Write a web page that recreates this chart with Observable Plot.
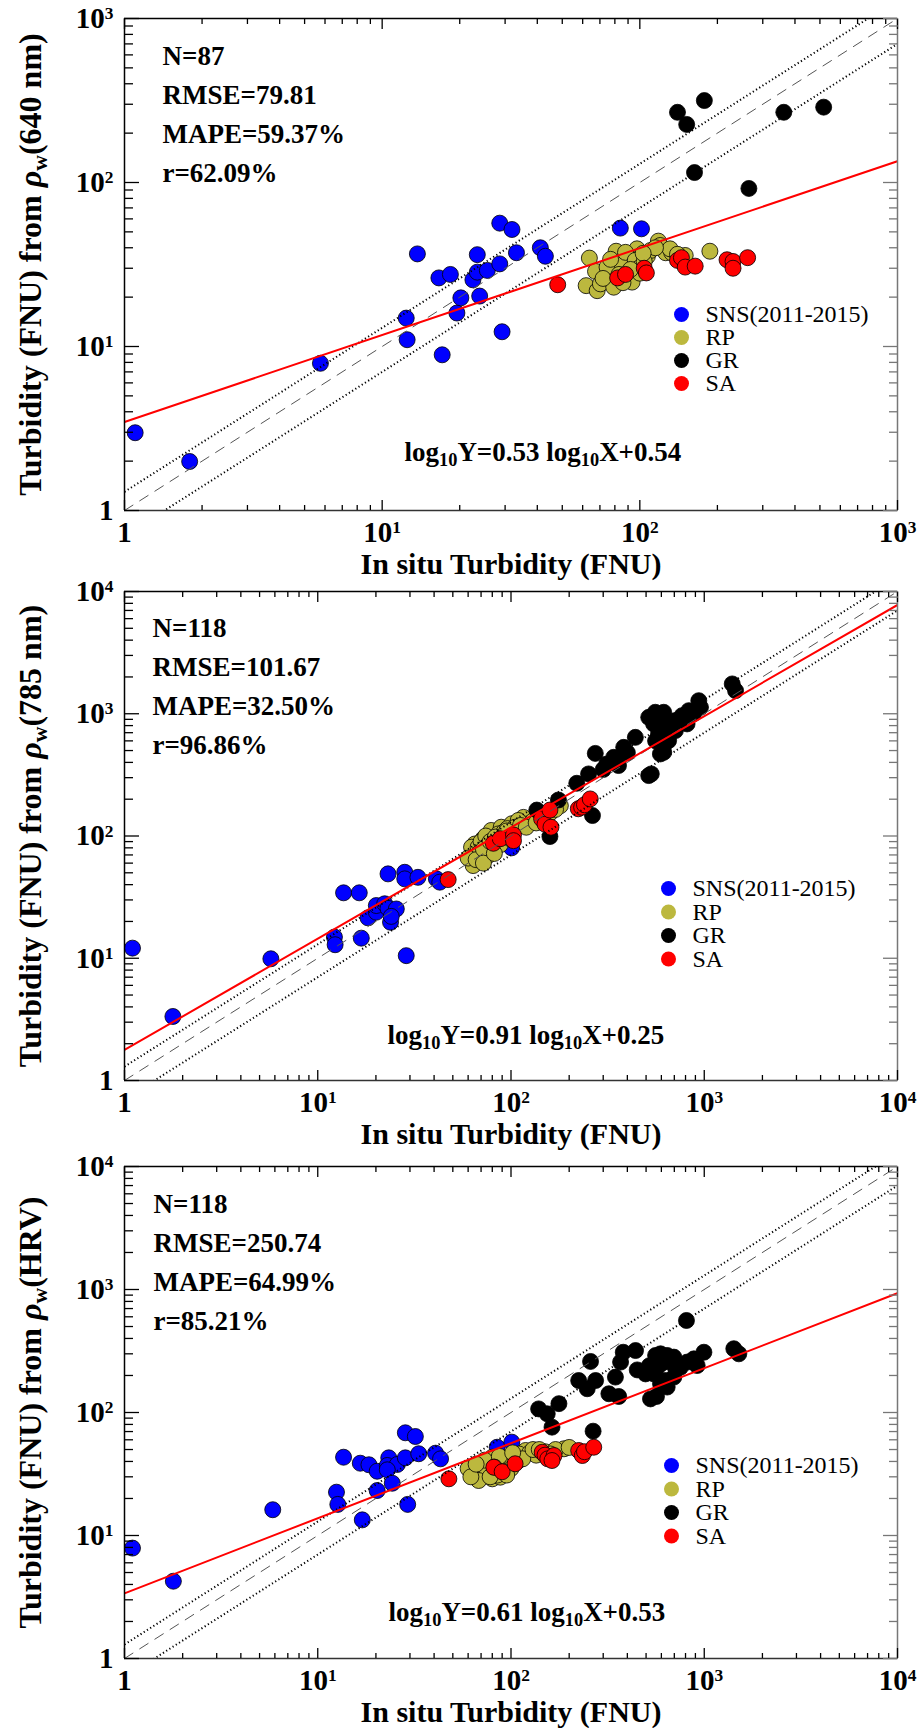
<!DOCTYPE html>
<html><head><meta charset="utf-8">
<script src="https://cdn.jsdelivr.net/npm/d3@7"></script>
<script src="https://cdn.jsdelivr.net/npm/@observablehq/plot@0.6"></script>
<style>
body{margin:0;background:#fff;}
#chart{width:923px;}
#chart svg{display:block;overflow:visible;background:#fff;}
</style></head><body><div id="chart"></div>
<script>
const FONT = "'Liberation Serif','Times New Roman',Times,serif";

// ---------- categories / labels ----------
const seriesNames = ["SNS(2011-2015)", "RP", "GR", "SA"];
const seriesColors = ["#0000ff", "#bcb83e", "#000000", "#ff0000"];
const panelBands = ["640 nm", "785 nm", "HRV"];
const panelN = [87, 118, 118];
const panelRMSE = ["79.81", "101.67", "250.74"];
const panelMAPE = ["59.37%", "32.50%", "64.99%"];
const panelR = ["62.09%", "96.86%", "85.21%"];
const fitSlope = [0.53, 0.91, 0.61];
const fitIntercept = [0.54, 0.25, 0.53];
const axisMax = [1e3, 1e4, 1e4];
const toleranceHigh = 1.3;
const toleranceLow = 0.7;

// ---------- panel 1 (640 nm) ----------
const p1_SNS = [[1.1,2.98],[1.79,1.99],[5.76,7.9],[12.4,14.9],[12.5,11.0],[13.7,36.7],[16.6,26.2],[17.1,8.9],[18.4,27.5],[19.5,16.0],[20.2,19.8],[22.5,25.5],[23.4,28.4],[23.4,36.3],[23.9,20.3],[25.6,29.1],[28.6,31.9],[28.6,56.5],[29.2,12.3],[31.9,51.7],[33.2,37.3],[41.1,40],[43,35.5],[84,52.7],[101.5,52.2]];
const p1_RP = [[118,43.9],[120,41.3],[126,37.3],[133,37.3],[131,39.4],[150,35.9],[187,38.1],[63.7,34.6],[67.3,28.7],[61.9,23.5],[68.3,21.9],[70.3,24.1],[75.7,27.1],[79.2,23.0],[80.9,38.1],[79.7,31.9],[90.5,35.1],[97.5,39.4],[101,35.9],[107,35.5],[87.4,29.1],[90.5,25.9],[93.3,27.1],[85.4,31.2],[94.7,31.9],[74.6,30.5],[93.3,24.7],[84,33],[88,37.5],[96,33.5],[110,38.5],[72,26],[83,27.5],[99,30],[104,33],[77,34],[140,36.5],[115,40],[100,28],[86,24.5],[92,29.5],[103,37]];
const p1_GR = [[140,268],[152,226],[178,316],[362,268],[517,288],[163,115],[265,92]];
const p1_SA = [[48,23.8],[82,26.2],[88,27.5],[104,30],[106,28.1],[140,33.5],[145,34.8],[150,30.5],[164,30.9],[218,33.8],[230,33],[230,30],[262,34.8]];

// ---------- panel 2 (785 nm) ----------
const p2_SNS = [[1.1,12.1],[1.78,3.34],[5.72,9.9],[12.2,14.9],[12.3,12.9],[13.6,34.3],[16.4,34.3],[16.8,14.6],[18.2,21.4],[20.1,23.8],[20.1,27.0],[22.2,27.9],[23.1,25.6],[25.5,25.3],[23.8,19.7],[23.1,49],[28.2,50.5],[28.2,44.6],[33,45.9],[28.7,10.5],[41.1,44.6],[42.8,41.9],[100.7,80],[24,22]];
const p2_RP = [[65,86],[62.5,81],[79,111],[89,118],[101,126],[116,142],[123,126],[180,177],[71.8,94.7],[79,76],[86,104],[109,134],[63.7,57.3],[76,69],[81,83.6],[67.6,81],[70,90],[74,100],[68,72],[85,92],[92,108],[96,115],[105,118],[112,122],[130,133],[140,150],[150,140],[60,66],[66,64],[72,78],[78,90],[83,98],[88,85],[94,100],[99,95],[120,118],[135,128],[160,155],[170,165],[72,60],[82,72],[95,110]];
const p2_GR = [[159,99],[136,163],[176,197],[264,147],[219,270],[252,322],[273,474],[313,388],[340,440],[360,377],[383,531],[440,641],[532,322],[558,1028],[617,1028],[547,826],[580,684],[617,484],[654,603],[709,879],[768,965],[832,1060],[937,1279],[956,1128],[815,826],[709,728],[593,469],[1396,1754],[1452,1545],[516,312],[681,774],[516,935],[600,900],[650,700],[720,800],[560,600],[880,1000],[300,350],[400,480],[620,560]];
const p2_SA = [[47.3,44],[81,87.2],[88,95],[103,102],[103,91.6],[144,138],[150,125],[159,163],[161,118],[223,167],[232,172],[240,180],[257,201]];

// ---------- panel 3 (HRV) ----------
const p3_SNS = [[28.4,68.4],[32,63.8],[13.6,43.3],[16.6,38.7],[18.4,37.6],[20.3,33.3],[23.3,42.8],[22.9,37.1],[25.8,37.8],[28.4,42.8],[33.3,46.2],[40.7,46.7],[43.2,42],[22.9,34.2],[24.3,26.6],[20.3,23.2],[12.5,22.5],[12.7,17.9],[17,13.4],[29.2,17.9],[5.85,16.2],[1.1,7.9],[1.79,4.25],[84.8,52.2],[101,57.4]];
const p3_RP = [[64.2,32.7],[69.5,31.8],[80,43.3],[93.7,42],[119,49.1],[188,50.7],[64,33.8],[69.5,30.7],[80,28.9],[88,29.8],[95.5,37.1],[60,35],[72,36],[76,38],[84,40],[90,36],[98,40],[105,44],[110,46],[125,47],[135,45],[150,48],[170,50],[200,52],[75,33],[85,31],[100,35],[68,28],[78,30],[92,33],[108,40],[115,42],[130,50],[160,46],[62,30],[73,41],[87,44],[95,31],[102,47],[140,50],[82,36],[66,38]];
const p3_GR = [[809,560],[258,260],[381,309],[441,319],[369,257],[450,222],[347,194],[274,182],[224,182],[248,156],[321,142],[361,135],[139,107],[177,118],[154,97.6],[163,76],[266,70.5],[527,129],[566,135],[560,291],[594,300],[643,291],[696,282],[571,233],[548,206],[630,182],[696,194],[643,161],[753,233],[816,257],[884,273],[996,309],[919,241],[1422,330],[1510,300],[497,206],[594,171],[600,250],[520,240],[700,240]];
const p3_SA = [[47.7,28.9],[81.5,35.9],[90,33],[105,38.3],[145,47.5],[150,45],[155,42],[167,44.7],[163,40.7],[224,49.1],[234,44.7],[240,48],[268,52.2]];

const panelSeries = [
  [p1_SNS, p1_RP, p1_GR, p1_SA],
  [p2_SNS, p2_RP, p2_GR, p2_SA],
  [p3_SNS, p3_RP, p3_GR, p3_SA]
];

// ---------- layout (pixels, styling only) ----------
const layout = [
  {height: 580, top: 18, bottom: 70, statsDx: 38, statsDy: 19, eqDx: 280, eqDy: -50, legDx: 557, legDy: 296, legSp: 23},
  {height: 570, top: 11, bottom: 70, statsDx: 28, statsDy: 18, eqDx: 263, eqDy: -37, legDx: 544, legDy: 297, legSp: 23.5},
  {height: 578, top: 16, bottom: 70, statsDx: 29, statsDy: 19, eqDx: 264, eqDy: -38, legDx: 547, legDy: 299, legSp: 23.5}
];

const fmt = d => d === 1 ? "1" : "10^{" + Math.round(Math.log10(d)) + "}";
const blank = () => "";
function majors(max) { const a = []; for (let k = 0; 10 ** k <= max * 1.0001; k++) a.push(10 ** k); return a; }
function minors(max) { const a = []; for (let k = 0; 10 ** (k + 1) <= max * 1.0001; k++) for (let m = 2; m <= 9; m++) a.push(m * 10 ** k); return a; }

const ns = "http://www.w3.org/2000/svg";
function richify(root) {
  root.querySelectorAll("text").forEach(el => {
    if (el.querySelector("tspan")) return;
    const s = el.textContent;
    if (!/[\^_*]\{/.test(s)) return;
    const fs = parseFloat(getComputedStyle(el).fontSize) || 16;
    el.textContent = "";
    const re = /([\^_*])\{([^}]*)\}|([^\^_*]+)/g;
    let m, shift = 0;
    while ((m = re.exec(s))) {
      const ts = document.createElementNS(ns, "tspan");
      let target = 0;
      if (m[1] === "^") { target = -0.3 * fs; ts.setAttribute("font-size", 0.6 * fs); }
      else if (m[1] === "_") { target = 0.2 * fs; ts.setAttribute("font-size", 0.68 * fs); }
      else if (m[1] === "*") { ts.setAttribute("font-style", "italic"); }
      if (target !== shift) ts.setAttribute("dy", target - shift);
      shift = target;
      ts.textContent = m[1] ? m[2] : m[3];
      el.appendChild(ts);
    }
  });
}

const chart = document.getElementById("chart");

for (let p = 0; p < 3; p++) {
  const L = layout[p];
  const max = axisMax[p];
  const a = fitSlope[p], b = fitIntercept[p];
  const ends = [1, max];
  const xMaj = majors(max), xMin = minors(max);
  const lab = {fontSize: 29, fontWeight: "bold", fontFamily: FONT};
  const dotted = {stroke: "#000", strokeWidth: 2, strokeDasharray: "1.2,2.6", strokeLinecap: "butt", clip: true};

  const marks = [
    // points
    ...panelSeries[p].map((data, i) => Plot.dot(data, {
      x: d => d[0], y: d => d[1], r: 8,
      fill: seriesColors[i], stroke: "#000", strokeWidth: 0.8
    })),
    // reference lines
    Plot.line(ends, {x: d => d, y: d => d * toleranceHigh, ...dotted}),
    Plot.line(ends, {x: d => d, y: d => d * toleranceLow, ...dotted}),
    Plot.line(ends, {x: d => d, y: d => d, stroke: "#555", strokeWidth: 1, strokeDasharray: "10,8", clip: true}),
    Plot.line(ends, {x: d => d, y: d => 10 ** (a * Math.log10(d) + b), stroke: "#ff0000", strokeWidth: 2, clip: true}),
    // frame
    Plot.ruleX([1], {stroke: "#000", strokeWidth: 1.5}),
    Plot.ruleX([max], {stroke: "#777", strokeWidth: 1.5}),
    Plot.ruleY([1], {stroke: "#333", strokeWidth: 1.5}),
    Plot.ruleY([max], {stroke: "#000", strokeWidth: 1.5}),
    // axes (inward ticks)
    Plot.axisX(xMaj, {anchor: "bottom", tickSize: -10, tickPadding: 21, tickFormat: fmt, label: null, strokeWidth: 1.3, ...lab}),
    Plot.axisX(xMin, {anchor: "bottom", tickSize: -5, tickFormat: blank, label: null, strokeWidth: 1.3}),
    Plot.axisX(xMaj, {anchor: "top", tickSize: -10, tickFormat: blank, label: null, strokeWidth: 1.3}),
    Plot.axisX(xMin, {anchor: "top", tickSize: -5, tickFormat: blank, label: null, strokeWidth: 1.3}),
    Plot.axisY(xMaj, {anchor: "left", tickSize: -15, tickPadding: 26, tickFormat: fmt, label: null, strokeWidth: 1.3, ...lab}),
    Plot.axisY(xMin, {anchor: "left", tickSize: -9, tickFormat: blank, label: null, strokeWidth: 1.3}),
    Plot.axisY(xMaj, {anchor: "right", tickSize: -15, tickFormat: blank, label: null, stroke: "#777", strokeWidth: 1.3}),
    Plot.axisY(xMin, {anchor: "right", tickSize: -9, tickFormat: blank, label: null, stroke: "#777", strokeWidth: 1.3}),
    // stats
    Plot.text([`N=${panelN[p]}\nRMSE=${panelRMSE[p]}\nMAPE=${panelMAPE[p]}\nr=${panelR[p]}`], {
      text: d => d, frameAnchor: "top-left", dx: L.statsDx, dy: L.statsDy, textAnchor: "start",
      lineAnchor: "top", lineHeight: 1.444, fontSize: 27, fontWeight: "bold", fontFamily: FONT, fill: "#000"
    }),
    // equation
    Plot.text([`log_{10}Y=${a.toFixed(2)} log_{10}X+${b.toFixed(2)}`], {
      text: d => d, frameAnchor: "bottom-left", dx: L.eqDx, dy: L.eqDy, textAnchor: "start",
      lineAnchor: "bottom", fontSize: 27, fontWeight: "bold", fontFamily: FONT, fill: "#000"
    }),
    // legend
    ...seriesNames.flatMap((name, i) => [
      Plot.dot([name], {frameAnchor: "top-left", dx: L.legDx, dy: L.legDy + i * L.legSp, r: 7.5, fill: seriesColors[i]}),
      Plot.text([name], {text: d => d, frameAnchor: "top-left", dx: L.legDx + 24, dy: L.legDy + i * L.legSp,
        textAnchor: "start", lineAnchor: "middle", fontSize: 24, fontFamily: FONT, fill: "#000"})
    ]),
    // axis titles
    Plot.text([`Turbidity (FNU) from *{ρ}_{w}(${panelBands[p]})`], {
      text: d => d, frameAnchor: "left", rotate: -90, dx: -84, textAnchor: "middle",
      lineAnchor: "bottom", fontSize: 32, fontWeight: "bold", fontFamily: FONT, fill: "#000"
    }),
    Plot.text(["In situ Turbidity (FNU)"], {
      text: d => d, frameAnchor: "bottom", dy: 63, textAnchor: "middle",
      lineAnchor: "bottom", fontSize: 30, fontWeight: "bold", fontFamily: FONT, fill: "#000"
    })
  ];

  const svg = Plot.plot({
    width: 923,
    height: L.height,
    marginLeft: 124,
    marginRight: 26,
    marginTop: L.top,
    marginBottom: L.bottom,
    style: {fontFamily: FONT, background: "#fff", color: "#000"},
    x: {type: "log", domain: [1, max]},
    y: {type: "log", domain: [1, max]},
    marks
  });
  chart.appendChild(svg);
  richify(svg);
}
</script>
</body></html>
